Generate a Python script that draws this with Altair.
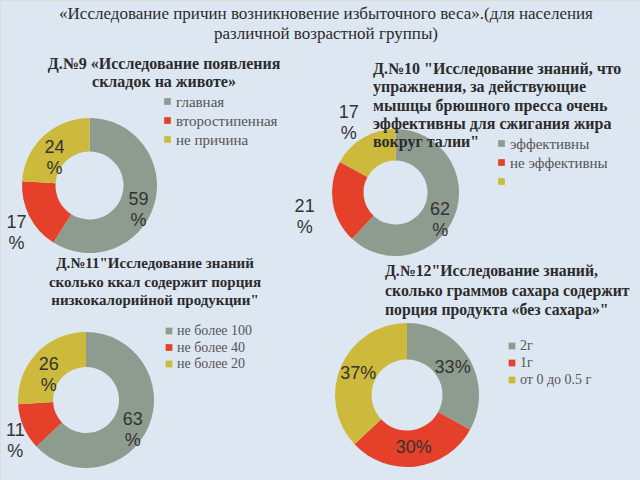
import altair as alt
import pandas as pd

# ---------------- data ----------------
main_title = "«Исследование  причин возникновение избыточного веса».(для населения\nразличной возрастной группы)"

t9 = "Д.№9 «Исследование появления\nскладок на животе»"
c9_cats = ["главная", "второстипенная", "не причина"]
c9_vals = [59, 17, 24]

t10 = "Д.№10 \"Исследование знаний, что\nупражнения, за действующие\nмышцы брюшного пресса очень\nэффективны для сжигания жира\nвокруг талии\""
c10_cats = ["эффективны", "не эффективны", " "]
c10_vals = [62, 21, 17]

t11 = "Д.№11\"Исследование знаний\nсколько ккал содержит порция\nнизкокалорийной продукции\""
c11_cats = ["не более 100", "не более 40", "не более 20"]
c11_vals = [63, 11, 26]

t12 = "Д.№12\"Исследование знаний,\nсколько граммов сахара содержит\nпорция продукта «без сахара»\""
c12_cats = ["2г", "1г", "от 0 до  0.5 г"]
c12_vals = [33, 30, 37]

PALETTE = ["#8e9b8f", "#e5412a", "#cdb93b"]
SERIF = "Liberation Serif"
SANS = "Liberation Sans"


def text_block(txt, x, y, size, weight, align, lh, color="#2b2b2b", font=SERIF):
    return alt.Chart(pd.DataFrame({"t": [txt]})).mark_text(
        lineBreak="\n", font=font, fontSize=size, fontWeight=weight,
        align=align, baseline="top", lineHeight=lh, color=color
    ).encode(text="t:N", x=alt.value(x), y=alt.value(y))


def donut(cats, vals, cx, cy, r_out, r_in, lx, ly, lab_in, lab_out, sep,
          lab_size, row_pad):
    df = pd.DataFrame({"cat": cats, "value": vals, "idx": list(range(len(cats)))})
    base = alt.Chart(df)
    arc = base.mark_arc(outerRadius=r_out, innerRadius=r_in).encode(
        theta=alt.Theta("value:Q", stack=True, scale=alt.Scale(domain=[0, 100])),
        color=alt.Color(
            "cat:N",
            scale=alt.Scale(domain=cats, range=PALETTE),
            sort=cats,
            legend=alt.Legend(
                title=None, orient="none", legendX=lx, legendY=ly,
                symbolType="square", symbolSize=45, symbolStrokeWidth=0,
                labelFont=SERIF, labelFontSize=lab_size, labelColor="#555555",
                rowPadding=row_pad, labelOffset=1, labelLimit=0, padding=0,
            ),
        ),
        order=alt.Order("idx:Q"),
        x=alt.value(cx),
        y=alt.value(cy),
    )
    lab = base.transform_window(
        cum="sum(value)", sort=[alt.SortField("idx")], frame=[None, 0]
    ).transform_calculate(
        mid="datum.cum - datum.value / 2",
        label="toString(datum.value) + '" + sep + "%'",
    )
    enc = dict(
        theta=alt.Theta("mid:Q", scale=alt.Scale(domain=[0, 100])),
        text="label:N",
        x=alt.value(cx),
        y=alt.value(cy),
    )
    style = dict(lineBreak="\n", font=SANS, fontSize=18, color="#333333",
                 align="center", baseline="middle", lineHeight=21)
    inner = lab.transform_filter("datum.value >= 22").mark_text(radius=lab_in, **style).encode(**enc)
    outer = lab.transform_filter("datum.value < 22").mark_text(radius=lab_out, **style).encode(**enc)
    return [arc, inner, outer]


layers = []
layers += donut(c9_cats, c9_vals, 89.5, 185.5, 67.5, 34, 160, 94, 51, 82, "\\n", 15, 3)
layers += donut(c10_cats, c10_vals, 395.5, 192.5, 63.5, 32, 494, 136, 48, 92, "\\n", 15, 3)
layers += donut(c11_cats, c11_vals, 86, 400, 68, 33, 162, 324, 51, 77, "\\n", 14, 2.5)
layers += donut(c12_cats, c12_vals, 407, 395, 72, 35.5, 505, 339, 53, 85, "", 14, 3)
layers += [
    text_block(main_title, 326, 6, 17, "normal", "center", 20),
    text_block(t9, 164, 56, 16, "bold", "center", 18),
    text_block(t10, 373, 61, 16, "bold", "left", 18.3),
    text_block(t11, 155, 256, 15, "bold", "center", 18.5),
    text_block(t12, 385, 264, 15.8, "bold", "left", 19.5),
]

chart = alt.layer(*layers).resolve_scale(
    color="independent", theta="independent"
).properties(
    width=640, height=480, padding=0, autosize="none"
).configure_view(stroke=None).configure(
    background="#dde7f2"
).configure_legend(labelFont=SERIF)

chart.save("out.html", embed_options={"renderer": "svg", "actions": False})
